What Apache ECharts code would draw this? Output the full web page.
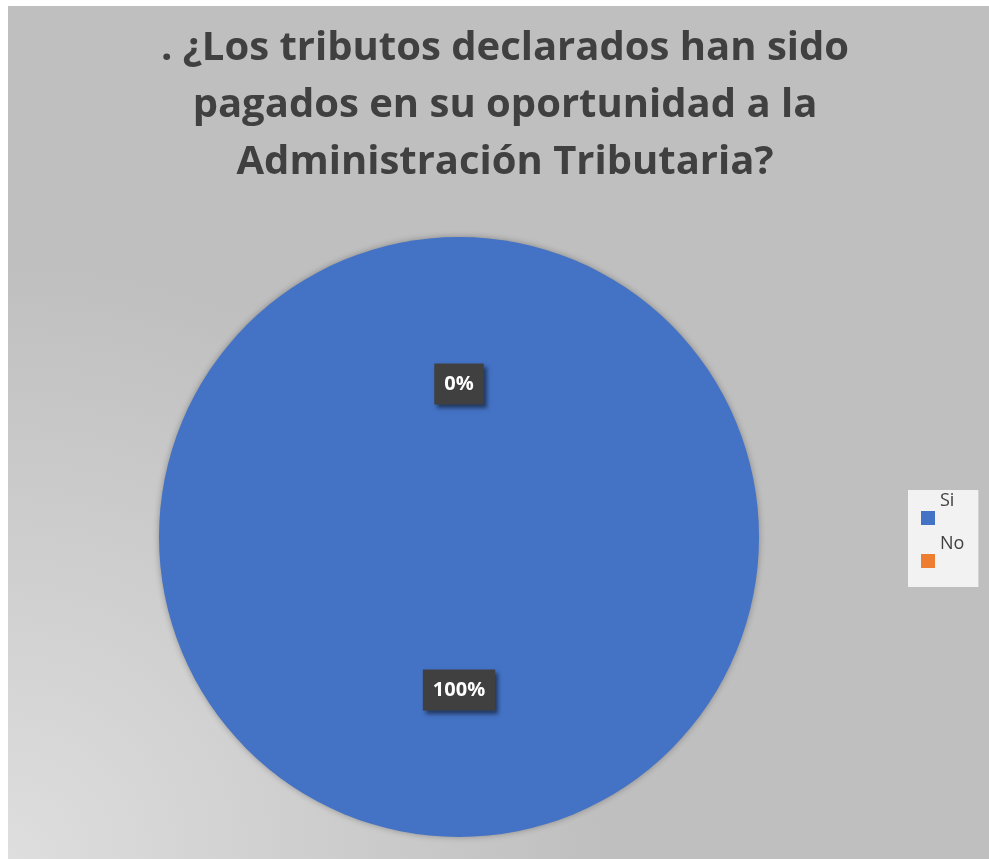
<!DOCTYPE html>
<html><head><meta charset="utf-8">
<script src="https://cdn.jsdelivr.net/npm/echarts@6/dist/echarts.min.js"></script>
<style>
html,body{margin:0;padding:0;background:#fff;}
#c{position:absolute;left:8px;top:6px;width:981px;height:853px;}
</style></head>
<body><div id="c"></div>
<script>
const titleText = '. ¿Los tributos declarados han sido\npagados en su oportunidad a la\nAdministración Tributaria?';
const categories = ['Si', 'No'];
const values = [100, 0];
const colors = ['#4472c4', '#ed7d31'];

const chart = echarts.init(document.getElementById('c'));
chart.setOption({
  backgroundColor: {
    type: 'radial', x: 0, y: 1, r: 0.7,
    colorStops: [{offset: 0, color: '#dedede'}, {offset: 1, color: '#bfbfbf'}]
  },
  title: {
    text: titleText, left: 497, top: 14, padding: 0, textAlign: 'center',
    textStyle: {fontFamily: 'Open Sans', fontWeight: 'bold', fontSize: 40, color: '#404040', lineHeight: 57}
  },
  legend: {
    orient: 'vertical', left: 900, top: 484,
    backgroundColor: '#f2f2f2', padding: [2, 14, 0, 13],
    itemWidth: 14, itemHeight: 14, itemGap: -9,
    icon: 'rect',
    data: categories,
    formatter: '{a|{name}}',
    textStyle: {
      rich: {a: {fontFamily: 'Open Sans', fontSize: 18, lineHeight: 20, color: '#404040', padding: [0, 0, 34, 0]}}
    }
  },
  series: [{
    type: 'pie', center: [451, 531], radius: 300,
    startAngle: 90, clockwise: true,
    minAngle: 0, stillShowZeroSum: true, avoidLabelOverlap: false,
    itemStyle: {shadowBlur: 6, shadowColor: 'rgba(0,0,0,0.3)'},
    label: {
      show: true, position: 'inside',
      formatter: p => p.percent.toFixed(0) + '%',
      fontFamily: 'Open Sans', fontWeight: 'bold', fontSize: 20, color: '#fff',
      backgroundColor: '#404040', padding: [0, 10, 19, 10], lineHeight: 22,
      shadowBlur: 4, shadowColor: 'rgba(0,0,0,0.5)', shadowOffsetX: 3, shadowOffsetY: 3
    },
    labelLine: {show: false},
    emphasis: {disabled: true},
    data: categories.map((n, i) => ({name: n, value: values[i], itemStyle: {color: colors[i]}}))
  }]
});
</script></body></html>
